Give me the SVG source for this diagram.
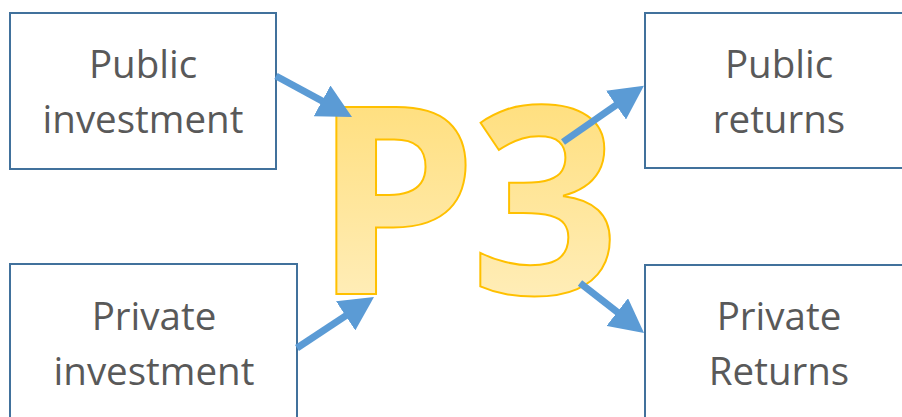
<svg xmlns="http://www.w3.org/2000/svg" width="902" height="417" viewBox="0 0 902 417">
<defs>
<style>
.box{fill:#fff;stroke:#41719C;stroke-width:2}
.lbl{font-family:"Open Sans","Liberation Sans",sans-serif;font-size:38.5px;fill:#595959;text-anchor:middle}
.conn{stroke:#5B9BD5;stroke-width:7;fill:none;marker-end:url(#ah)}
.big{font-family:"Open Sans","Liberation Sans",sans-serif;font-weight:bold;font-size:262px;letter-spacing:-7px;fill:url(#yg);stroke:#FFC000;stroke-width:2}
</style>
<linearGradient id="yg" x1="0" y1="0" x2="0" y2="1">
<stop offset="0" stop-color="#FFD966"/>
<stop offset="1" stop-color="#FFF2CC"/>
</linearGradient>
<marker id="ah" markerUnits="userSpaceOnUse" viewBox="0 0 34 35" markerWidth="34" markerHeight="35" refX="4" refY="17.5" orient="auto">
<path d="M0,0 L34,17.5 L0,35 Z" fill="#5B9BD5"/>
</marker>
</defs>
<g id="node-public-investment">
<rect class="box" x="10" y="13" width="266" height="156"/>
<text class="lbl" x="143" y="78">Public</text>
<text class="lbl" x="143" y="133">investment</text>
</g>
<g id="node-private-investment">
<rect class="box" x="10" y="264" width="287" height="170"/>
<text class="lbl" x="154" y="330">Private</text>
<text class="lbl" x="154" y="385">investment</text>
</g>
<g id="node-public-returns">
<rect class="box" x="645" y="13" width="270" height="155"/>
<text class="lbl" x="779" y="78">Public</text>
<text class="lbl" x="779" y="133">returns</text>
</g>
<g id="node-private-returns">
<rect class="box" x="645" y="265" width="270" height="170"/>
<text class="lbl" x="779" y="330">Private</text>
<text class="lbl" x="779" y="385">Returns</text>
</g>
<g id="node-p3">
<text class="big" x="463" y="294" text-anchor="middle">P3</text>
</g>
<g id="connectors">
<line class="conn" x1="276" y1="76" x2="325.6" y2="102.8"/>
<line class="conn" x1="297" y1="348" x2="349" y2="313.6"/>
<line class="conn" x1="563" y1="142" x2="619.3" y2="102.9"/>
<line class="conn" x1="580" y1="283" x2="620.4" y2="314.5"/>
</g>
</svg>
